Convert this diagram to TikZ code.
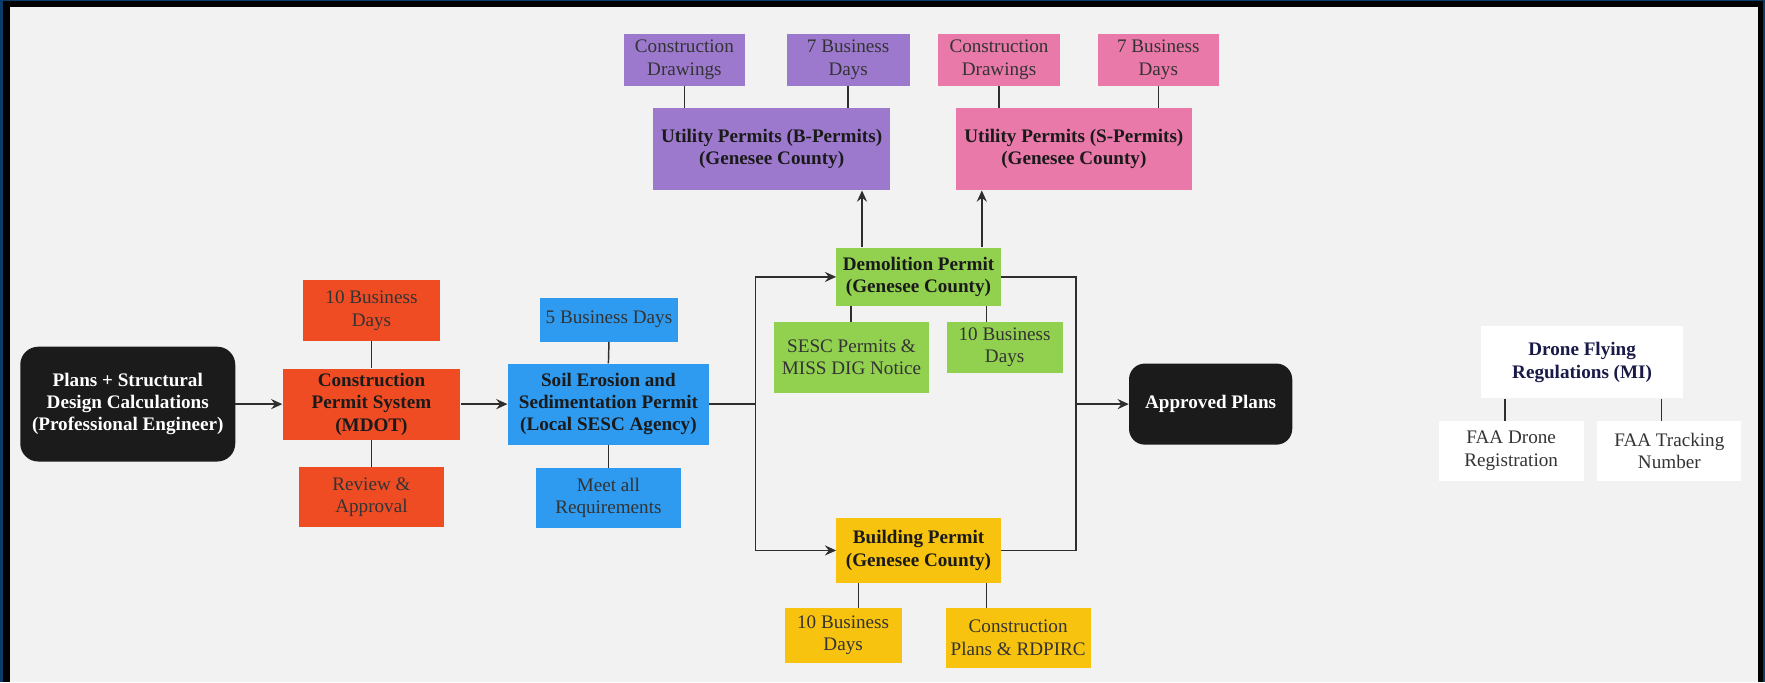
\documentclass[tikz,border=0pt]{standalone}
\usepackage{fontspec}
\setmainfont{Liberation Serif}
\usetikzlibrary{arrows.meta,calc}
\definecolor{frameblue}{HTML}{0B3D6B}
\definecolor{bg}{HTML}{F2F2F2}
\definecolor{darkbox}{HTML}{1B1B1B}
\definecolor{cred}{HTML}{F04C24}
\definecolor{cblue}{HTML}{2E9BF0}
\definecolor{cpurple}{HTML}{9C79CD}
\definecolor{cpink}{HTML}{E879A9}
\definecolor{cgreen}{HTML}{92D14F}
\definecolor{cyellow}{HTML}{F8C30E}
\definecolor{linec}{HTML}{2E2E2E}
\definecolor{txt}{HTML}{333333}
\definecolor{btxt}{HTML}{1A1A1A}
\definecolor{navy}{HTML}{1A1A48}
\begin{document}
\begin{tikzpicture}[x=1pt,y=-1pt,
  box/.style={inner sep=0pt, align=center, text=txt, font=\fontsize{17}{19.8}\selectfont},
  bbox/.style={inner sep=0pt, align=center, text=btxt, font=\bfseries\fontsize{17}{19.8}\selectfont},
  sz/.style 2 args={minimum width=#1pt, minimum height=#2pt},
  conn/.style={draw=linec, line width=1.3pt},
  arr/.style={conn, -{Stealth[length=10pt,width=9pt,inset=3.5pt]}}]
\useasboundingbox (0,0) rectangle (1568,606);
\fill[frameblue] (0,0) rectangle (1568,606);
\fill[black] (2.7,0.9) rectangle (1566.6,606);
\fill[bg] (8.9,6) rectangle (1561.5,606);

% left chain
\node[bbox, sz={191}{102}, fill=darkbox, text=white, rounded corners=16pt] (plans) at (113.5,359) {Plans + Structural\\Design Calculations\\(Professional Engineer)};
\node[bbox, sz={158}{63}, fill=cred] (cps) at (330,359) {Construction\\Permit System\\(MDOT)};
\node[box, sz={122}{54}, fill=cred] (cps10) at (330,276) {10 Business\\Days};
\node[box, sz={128}{53}, fill=cred] (review) at (330,441.5) {Review \&\\Approval};
\node[bbox, sz={179}{72}, fill=cblue] (soil) at (540.5,359) {Soil Erosion and\\Sedimentation Permit\\(Local SESC Agency)};
\node[box, sz={122}{39}, fill=cblue] (soil5) at (541,284) {5 Business Days};
\node[box, sz={129}{53}, fill=cblue] (meet) at (540.5,442.5) {Meet all\\Requirements};

% utility permits
\node[bbox, sz={211}{73}, fill=cpurple] (ub) at (685.5,132.5) {Utility Permits (B-Permits)\\(Genesee County)};
\node[box, sz={108}{46}, fill=cpurple] (ubcd) at (608,53) {Construction\\Drawings};
\node[box, sz={109}{46}, fill=cpurple] (ub7) at (753.5,53) {7 Business\\Days};
\node[bbox, sz={210}{73}, fill=cpink] (us) at (954,132.5) {Utility Permits (S-Permits)\\(Genesee County)};
\node[box, sz={109}{46}, fill=cpink] (uscd) at (887.5,53) {Construction\\Drawings};
\node[box, sz={108}{46}, fill=cpink] (us7) at (1029,53) {7 Business\\Days};

% demolition
\node[bbox, sz={146}{52}, fill=cgreen] (dem) at (816,246) {Demolition Permit\\(Genesee County)};
\node[box, sz={137}{63}, fill=cgreen] (sesc) at (756.5,317.5) {SESC Permits \&\\MISS DIG Notice};
\node[box, sz={103}{45}, fill=cgreen] (dem10) at (892.5,308.5) {10 Business\\Days};

% building
\node[bbox, sz={146}{58}, fill=cyellow] (bld) at (816,489) {Building Permit\\(Genesee County)};
\node[box, sz={104}{49}, fill=cyellow] (bld10) at (749,564.5) {10 Business\\Days};
\node[box, sz={129}{53}, fill=cyellow] (cp) at (904.5,566.5) {Construction\\Plans \& RDPIRC};

% approved
\node[bbox, sz={145}{72}, fill=darkbox, text=white, rounded corners=14pt] (appr) at (1075.5,359) {Approved Plans};

% drone
\node[bbox, sz={179}{64}, fill=white, text=navy] (drone) at (1405.5,322) {Drone Flying\\Regulations (MI)};
\node[box, sz={129}{53}, fill=white] (faad) at (1342.5,400.5) {FAA Drone\\Registration};
\node[box, sz={128}{53}, fill=white] (faat) at (1483,400.5) {FAA Tracking\\Number};

% connectors
\draw[arr] (plans.east) -- (cps.west);
\draw[arr] (cps.east) -- (soil.west);
\draw[conn] (cps10.south) -- (cps.north);
\draw[conn] (cps.south) -- (review.north);
\draw[conn] (soil5.south) -- (soil.north);
\draw[conn] (soil.south) -- (meet.north);

\coordinate (split) at (671,359);
\coordinate (merge) at (956,359);
\draw[conn] (soil.east) -- (split);
\draw[arr] (split) |- (dem.west);
\draw[arr] (split) |- (bld.west);
\draw[conn] (dem.east) -| (merge);
\draw[conn] (bld.east) -| (merge);
\draw[arr] (merge) -- (appr.west);

\draw[conn] (ubcd.south) -- (ubcd.south |- ub.north);
\draw[conn] (ub7.south) -- (ub7.south |- ub.north);
\draw[conn] (uscd.south) -- (uscd.south |- us.north);
\draw[conn] (us7.south) -- (us7.south |- us.north);

\coordinate (du1) at ([xshift=23pt]dem.north west);
\coordinate (du2) at ([xshift=-17pt]dem.north east);
\draw[arr] (du1) -- (du1 |- ub.south);
\draw[arr] (du2) -- (du2 |- us.south);

\coordinate (dd1) at ([xshift=13pt]dem.south west);
\coordinate (dd2) at ([xshift=-13pt]dem.south east);
\draw[conn] (dd1) -- (dd1 |- sesc.north);
\draw[conn] (dd2) -- (dd2 |- dem10.north);

\coordinate (bd1) at ([xshift=20pt]bld.south west);
\coordinate (bd2) at ([xshift=-13pt]bld.south east);
\draw[conn] (bd1) -- (bd1 |- bld10.north);
\draw[conn] (bd2) -- (bd2 |- cp.north);

\coordinate (rd1) at ([xshift=21pt]drone.south west);
\coordinate (rd2) at ([xshift=-19pt]drone.south east);
\draw[conn] (rd1) -- (rd1 |- faad.north);
\draw[conn] (rd2) -- (rd2 |- faat.north);
\end{tikzpicture}
\end{document}
